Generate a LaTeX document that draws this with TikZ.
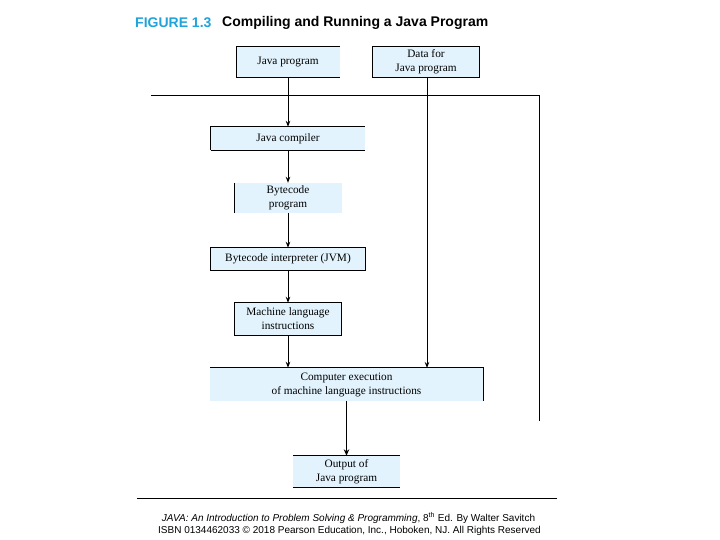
\documentclass[tikz,border=0pt]{standalone}
\usepackage{fontspec}
\setmainfont{Liberation Serif}
\newfontfamily\arialfont{Liberation Sans}
\usetikzlibrary{arrows.meta}
\definecolor{boxfill}{HTML}{E2F3FD}
\definecolor{figblue}{HTML}{1FA3DA}
\begin{document}
\begin{tikzpicture}[x=1pt,y=-1pt,
  bx/.style={fill=boxfill,inner sep=0pt,align=center,font=\fontsize{11.3}{14}\selectfont},
  edge/.style={line width=0.9pt,black},
  arr/.style={line width=0.9pt,-{Stealth[length=6pt,width=4.5pt]}},
  thickarr/.style={line width=1.6pt,-{Stealth[length=6.5pt,width=5.5pt]}}]
\useasboundingbox (0,0) rectangle (720,540);
% title
\node[anchor=west,font=\arialfont\bfseries\fontsize{14}{16}\selectfont,text=figblue,inner sep=0pt] (figno) at (135,23) {FIGURE 1.3};
\node[anchor=west,font=\arialfont\bfseries\fontsize{14}{16}\selectfont,inner sep=0pt] (title) at (222,23) {Compiling and Running a Java Program};
% boxes
\node[bx,minimum width=103pt,minimum height=30pt] (jp) at (288,62) {Java program};
\node[bx,minimum width=106pt,minimum height=30pt] (data) at (426,62) {Data for\\Java program};
\node[bx,minimum width=154pt,minimum height=23pt] (comp) at (288,138.5) {Java compiler};
\node[bx,minimum width=107pt,minimum height=30pt] (byte) at (288,198) {Bytecode\\program};
\node[bx,minimum width=154pt,minimum height=22pt] (jvm) at (288,259) {Bytecode interpreter (JVM)};
\node[bx,minimum width=107pt,minimum height=32pt] (mach) at (288,319) {Machine language\\instructions};
\node[bx,minimum width=273pt,minimum height=33pt] (exec) at (346.5,384.5) {Computer execution\\of machine language instructions};
\node[bx,minimum width=107pt,minimum height=31pt] (out) at (346.5,471.5) {Output of\\Java program};
% partial borders
\draw[edge] (jp.south west) -- (jp.north west) -- (jp.north east);
\draw[edge] (jp.south west) -- (jp.south east);
\draw[edge] (data.north west) rectangle (data.south east);
\draw[edge] (comp.south west) -- (comp.north west) -- (comp.north east);
\draw[edge] (comp.south west) -- (comp.south east);
\draw[edge] (byte.north west) -- (byte.south west);
\draw[edge] (jvm.north west) rectangle (jvm.south east);
\draw[edge] (mach.north west) rectangle (mach.south east);
\draw[edge] (exec.north west) -- (exec.north east) -- (exec.south east);
\draw[edge] (out.north west) -- (out.north east);
\draw[edge] (out.south west) -- (out.south east);
% frame lines
\coordinate (hl) at (151,95);
\coordinate (hr) at (539,95);
\coordinate (vb) at (539,421);
\draw[edge] (hl) -- (hr) -- (vb);
% arrows
\draw[arr] (jp.south) -- (comp.north);
\draw[arr] (comp.south) -- (byte.north);
\draw[arr] (byte.south) -- (jvm.north);
\draw[arr] (jvm.south) -- (mach.north);
\draw[arr] (mach.south) -- (mach.south |- exec.north);
\coordinate (dtop) at (427,77);
\coordinate (dbot) at (427,368);
\draw[arr] (dtop) -- (dbot);
\draw[thickarr] (exec.south) -- (out.north);
% footer
\coordinate (fl) at (137,498);
\coordinate (fr) at (557,498);
\draw[line width=0.8pt] (fl) -- (fr);
\node[font=\arialfont\fontsize{10}{12}\selectfont,inner sep=0pt] (f1) at (348.5,518) {\textit{JAVA: An Introduction to Problem Solving \& Programming}, 8\textsuperscript{th} Ed. By Walter Savitch};
\node[font=\arialfont\fontsize{10}{12}\selectfont,inner sep=0pt] (f2) at (349.5,531) {ISBN 0134462033 © 2018 Pearson Education, Inc., Hoboken, NJ. All Rights Reserved};
\end{tikzpicture}
\end{document}
